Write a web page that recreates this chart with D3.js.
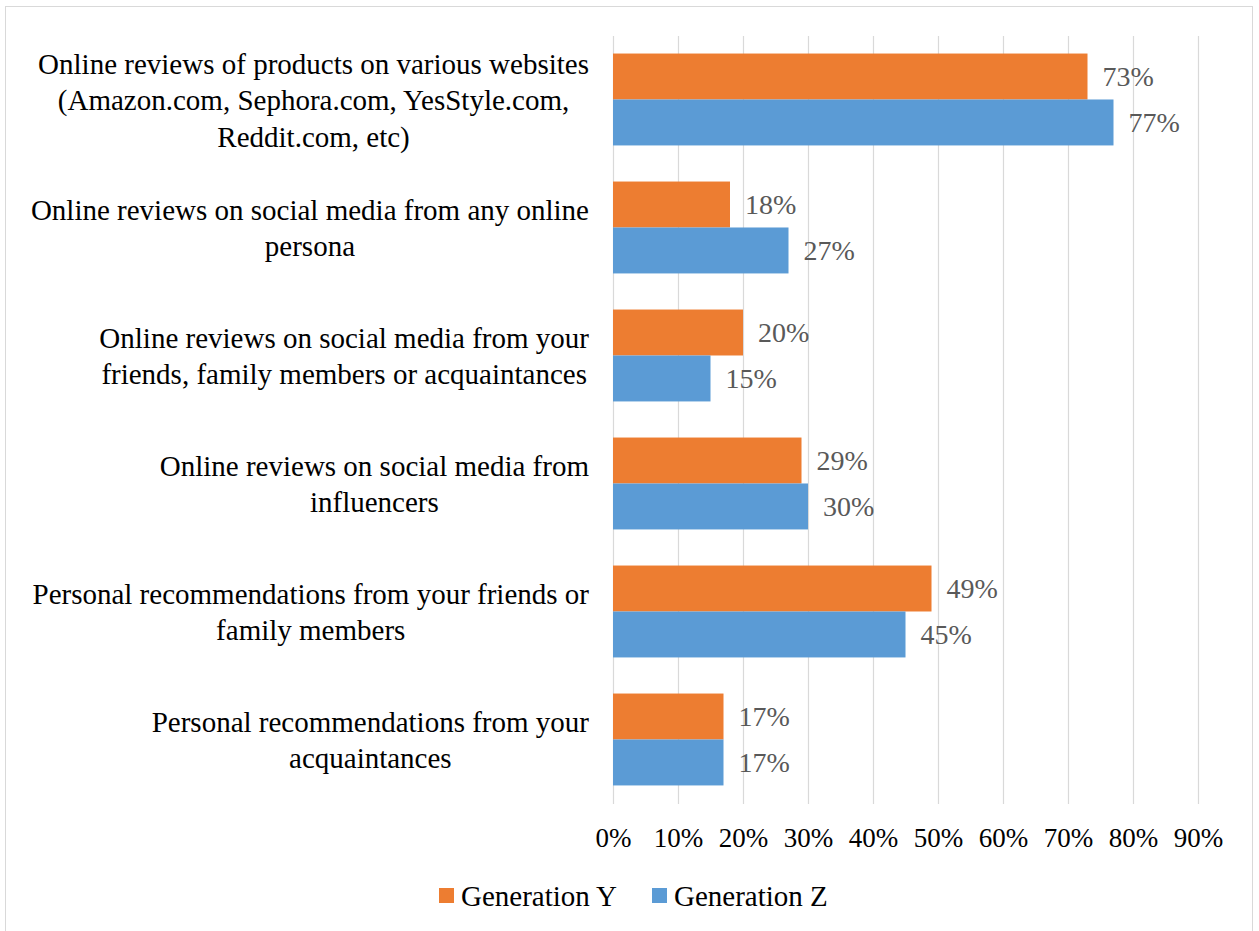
<!DOCTYPE html>
<html>
<head>
<meta charset="utf-8">
<script src="https://cdn.jsdelivr.net/npm/d3@7"></script>
<style>
  html, body { margin: 0; padding: 0; background: #fff; }
  svg { display: block; font-family: "Liberation Serif", "Times New Roman", serif; }
</style>
</head>
<body>
<svg id="chart" width="1259" height="931"></svg>
<script>
// Survey categories (each entry holds the wrapped lines of its label)
const categories = [
  ["Online reviews of products on various websites", "(Amazon.com, Sephora.com, YesStyle.com,", "Reddit.com, etc)"],
  ["Online reviews on social media from any online", "persona"],
  ["Online reviews on social media from your", "friends, family members or acquaintances"],
  ["Online reviews on social media from", "influencers"],
  ["Personal recommendations from your friends or", "family members"],
  ["Personal recommendations from your", "acquaintances"]
];
const seriesNames = ["Generation Y", "Generation Z"];
const genY = [0.73, 0.18, 0.20, 0.29, 0.49, 0.17];
const genZ = [0.77, 0.27, 0.15, 0.30, 0.45, 0.17];
const tickValues = [0, 0.1, 0.2, 0.3, 0.4, 0.5, 0.6, 0.7, 0.8, 0.9];
const colors = ["#ED7D31", "#5B9BD5"];

const svg = d3.select("#chart");
const W = 1259, H = 931;

// outer chart frame
svg.append("rect")
  .attr("x", 5.5).attr("y", 6.5)
  .attr("width", 1247).attr("height", 960)
  .attr("fill", "#fff").attr("stroke", "#d9d9d9").attr("stroke-width", 1);

const plot = { left: 613, right: 1198, top: 36, bottom: 804 };

const x = d3.scaleLinear().domain([0, 0.9]).range([plot.left, plot.right]);
const idx = d3.range(categories.length);
const y = d3.scaleBand().domain(idx).range([plot.top, plot.bottom]).padding(0);
const ySub = d3.scaleBand().domain([0, 1])
  .range([y.bandwidth() * 0.137, y.bandwidth() * 0.855]).padding(0);

// vertical gridlines
svg.append("g").selectAll("line").data(tickValues).join("line")
  .attr("x1", d => Math.round(x(d)) + 0.5).attr("x2", d => Math.round(x(d)) + 0.5)
  .attr("y1", plot.top).attr("y2", plot.bottom)
  .attr("stroke", "#d9d9d9").attr("stroke-width", 1.2);

// bars
const series = [genY, genZ];
const groups = svg.append("g").selectAll("g").data(idx).join("g")
  .attr("transform", i => `translate(0,${y(i)})`);

series.forEach((vals, s) => {
  groups.append("rect")
    .attr("x", x(0))
    .attr("y", ySub(s))
    .attr("width", i => x(vals[i]) - x(0))
    .attr("height", ySub.bandwidth())
    .attr("fill", colors[s]);
  groups.append("text")
    .attr("x", i => x(vals[i]) + 15)
    .attr("y", ySub(s) + ySub.bandwidth() / 2)
    .attr("dy", "0.35em")
    .attr("font-size", 28)
    .attr("fill", "#595959")
    .text(i => Math.round(vals[i] * 100) + "%");
});

// category labels: block right-aligned to the axis, lines centred within it
const labelRight = 589, lineH = 36.5;
groups.each(function(i) {
  const g = d3.select(this);
  const lines = categories[i];
  const tx = g.append("text").attr("font-size", 29).attr("fill", "#000")
    .attr("text-anchor", "middle");
  const spans = tx.selectAll("tspan").data(lines).join("tspan")
    .attr("y", (d, k) => y.bandwidth() / 2 + (k - (lines.length - 1) / 2) * lineH)
    .attr("dy", "0.35em")
    .text(d => d);
  let maxW = 0;
  spans.each(function() { maxW = Math.max(maxW, this.getComputedTextLength()); });
  spans.attr("x", labelRight - maxW / 2);
});

// x axis tick labels
const axis = d3.axisBottom(x).tickValues(tickValues)
  .tickFormat(d => Math.round(d * 100) + "%").tickSize(0).tickPadding(0);
const axisG = svg.append("g").attr("transform", `translate(0,${838})`).call(axis);
axisG.select(".domain").remove();
axisG.selectAll("text")
  .attr("font-family", "Liberation Serif, serif")
  .attr("font-size", 27).attr("fill", "#000").attr("dy", "0.35em").attr("y", 0);

// legend
const legend = svg.append("g").attr("transform", "translate(0,896)");
const legendX = [439, 652];
seriesNames.forEach((name, s) => {
  legend.append("rect").attr("x", legendX[s]).attr("y", -8)
    .attr("width", 15).attr("height", 15).attr("fill", colors[s]);
  legend.append("text").attr("x", legendX[s] + 22).attr("y", 0).attr("dy", "0.35em")
    .attr("font-size", 29).attr("fill", "#000").text(name);
});
</script>
</body>
</html>
